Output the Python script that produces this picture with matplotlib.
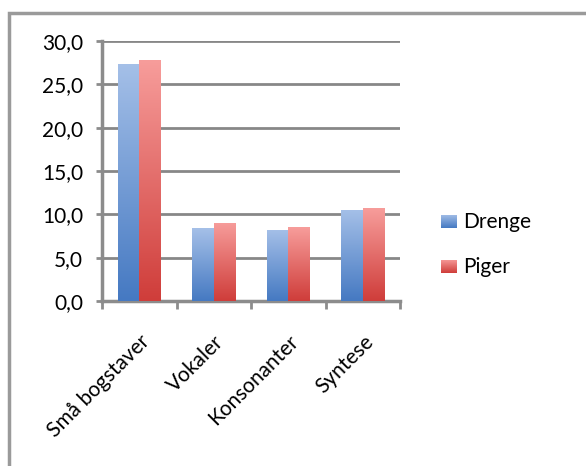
import matplotlib
matplotlib.use("Agg")
import matplotlib.pyplot as plt
from matplotlib.patches import Rectangle
from matplotlib.ticker import FuncFormatter
import numpy as np

categories = ["Små bogstaver", "Vokaler", "Konsonanter", "Syntese"]
drenge = [27.4, 8.4, 8.2, 10.5]
piger = [27.8, 9.0, 8.5, 10.7]
series_names = ["Drenge", "Piger"]
yticks = [0, 5, 10, 15, 20, 25, 30]

blue_top, blue_bot = "#a5c0e8", "#4579c2"
red_top, red_bot = "#f79d9b", "#cf3d3a"

plt.rcParams['font.family'] = ['Lato', 'DejaVu Sans']


def gradient_bar(ax, bar, top, bot):
    x, y = bar.get_x(), bar.get_y()
    w, h = bar.get_width(), bar.get_height()
    grad = np.linspace(1, 0, 256).reshape(-1, 1)
    c1 = np.array(matplotlib.colors.to_rgb(top))
    c2 = np.array(matplotlib.colors.to_rgb(bot))
    img = c2 + (c1 - c2) * grad[:, :, None]
    img = img.reshape(256, 1, 3)
    im = ax.imshow(img, extent=[x, x + w, y, y + h], aspect='auto', zorder=3,
                   interpolation='bilinear')
    im.set_clip_path(bar)
    bar.set_visible(False)


fig = plt.figure(figsize=(5.86, 4.66), dpi=100)
ax = fig.add_axes([0.174, 0.354, 0.509, 0.558])

x = np.arange(len(categories))
w = 0.29
b1 = ax.bar(x - w / 2, drenge, w, color=blue_bot, zorder=3)
b2 = ax.bar(x + w / 2, piger, w, color=red_bot, zorder=3)
for bar in b1:
    gradient_bar(ax, bar, blue_top, blue_bot)
for bar in b2:
    gradient_bar(ax, bar, red_top, red_bot)

ax.set_xlim(-0.5, len(categories) - 0.5)
ax.set_ylim(0, 30)
ax.set_yticks(yticks)
ax.yaxis.set_major_formatter(FuncFormatter(lambda v, p: f"{v:.1f}".replace(".", ",")))
ax.grid(axis='y', color='#878787', linewidth=2, zorder=0)
ax.set_axisbelow(True)

for s in ['top', 'right']:
    ax.spines[s].set_visible(False)
for s in ['left', 'bottom']:
    ax.spines[s].set_color('#8c8c8c')
    ax.spines[s].set_linewidth(2.5)

ax.set_xticks(np.arange(-0.5, len(categories), 1.0), minor=False)
ax.set_xticklabels([])
ax.set_xticks(x, minor=True)
ax.set_xticklabels(categories, minor=True, rotation=45, ha='right',
                   rotation_mode='anchor', fontsize=15)
ax.tick_params(axis='x', which='major', length=6, width=2, color='#8c8c8c')
ax.tick_params(axis='x', which='minor', length=0, pad=22)
ax.tick_params(axis='y', length=4.5, width=2, color='#8c8c8c', labelsize=15, pad=9)

# legend
for i, (name, top, bot) in enumerate(zip(series_names, [blue_top, red_top], [blue_bot, red_bot])):
    cy = 0.523 - i * 0.095
    lax = fig.add_axes([0.753, cy - 0.013, 0.027, 0.028])
    grad = np.linspace(1, 0, 64).reshape(-1, 1)
    c1 = np.array(matplotlib.colors.to_rgb(top))
    c2 = np.array(matplotlib.colors.to_rgb(bot))
    lax.imshow((c2 + (c1 - c2) * grad[:, :, None]).reshape(64, 1, 3), aspect='auto')
    lax.axis('off')
    fig.text(0.79, cy, name, fontsize=15, va='center', ha='left')

# outer chart border
fig.patches.append(Rectangle((0.0154, -0.1), 1.2, 1.072, transform=fig.transFigure,
                             fill=False, edgecolor='#9a9a9a', linewidth=2.5))

fig.savefig("out.png", dpi=100)
